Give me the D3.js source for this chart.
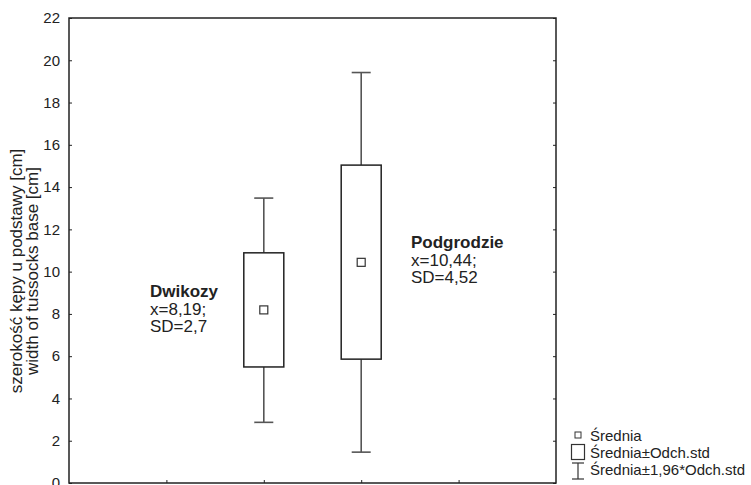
<!DOCTYPE html>
<html>
<head>
<meta charset="utf-8">
<script src="https://cdn.jsdelivr.net/npm/d3@7"></script>
<style>
  body { margin: 0; background: #fff; }
  svg { font-family: "Liberation Sans", Arial, sans-serif; }
</style>
</head>
<body>
<svg id="chart" width="751" height="485"></svg>
<script>
// ---- data ----
const categories = ["Dwikozy", "Podgrodzie"];
const categoryPos = [2, 3];
const means = [8.19, 10.44];
const boxLow = [5.49, 5.86];
const boxHigh = [10.89, 15.04];
const whiskerLow = [2.87, 1.46];
const whiskerHigh = [13.48, 19.42];
const annotationLines = [
  ["x=8,19;", "SD=2,7"],
  ["x=10,44;", "SD=4,52"]
];
const yTicks = [0, 2, 4, 6, 8, 10, 12, 14, 16, 18, 20, 22];
const xTicks = [1, 2, 3, 4];
const yLabelLines = ["szerokość kępy u podstawy [cm]", "width of tussocks base [cm]"];
const legendLabels = ["Średnia", "Średnia±Odch.std", "Średnia±1,96*Odch.std"];

// ---- layout ----
const svg = d3.select("#chart");
const L = 69, R = 556, T = 18, B = 483;
const x = d3.scaleLinear().domain([0, 5]).range([L, R]);
const y = d3.scaleLinear().domain([0, 22]).range([B, T]);

const boxColor = "#222";
const whiskColor = "#555";

// frame
svg.append("rect").attr("x", L).attr("y", T).attr("width", R - L).attr("height", B - T)
  .attr("fill", "none").attr("stroke", "#222").attr("stroke-width", 1.5);

// left axis
const yAxis = d3.axisLeft(y).tickValues(yTicks).tickSizeInner(-3).tickSizeOuter(0).tickPadding(9)
  .tickFormat(d3.format("d"));
const gy = svg.append("g").attr("transform", `translate(${L},0)`).call(yAxis);
gy.select(".domain").remove();
gy.selectAll("line").attr("stroke", "#222");
gy.selectAll("text").attr("font-size", 15).attr("fill", "#222");

// right ticks
const yAxisR = d3.axisRight(y).tickValues(yTicks).tickSizeInner(-3).tickSizeOuter(0).tickFormat("");
const gyr = svg.append("g").attr("transform", `translate(${R},0)`).call(yAxisR);
gyr.select(".domain").remove();
gyr.selectAll("line").attr("stroke", "#222");

// bottom ticks
const xAxis = d3.axisBottom(x).tickValues(xTicks).tickSizeInner(-3).tickSizeOuter(0).tickFormat("");
const gx = svg.append("g").attr("transform", `translate(0,${B})`).call(xAxis);
gx.select(".domain").remove();
gx.selectAll("line").attr("stroke", "#222");

// y label
const yl = svg.append("text").attr("transform", `translate(22,271) rotate(-90)`)
  .attr("text-anchor", "middle").attr("font-size", 17).attr("fill", "#222");
yl.append("tspan").attr("x", 0).attr("y", 0).text(yLabelLines[0]);
yl.append("tspan").attr("x", 0).attr("y", 16).text(yLabelLines[1]);

// boxes
const boxW = 40, capW = 19, markS = 8;
const g = svg.append("g");
categories.forEach((c, i) => {
  const cx = x(categoryPos[i]);
  g.append("line").attr("x1", cx).attr("x2", cx).attr("y1", y(whiskerHigh[i])).attr("y2", y(boxHigh[i]))
    .attr("stroke", whiskColor).attr("stroke-width", 1.6);
  g.append("line").attr("x1", cx).attr("x2", cx).attr("y1", y(boxLow[i])).attr("y2", y(whiskerLow[i]))
    .attr("stroke", whiskColor).attr("stroke-width", 1.6);
  g.append("line").attr("x1", cx - capW / 2).attr("x2", cx + capW / 2).attr("y1", y(whiskerHigh[i])).attr("y2", y(whiskerHigh[i]))
    .attr("stroke", whiskColor).attr("stroke-width", 1.6);
  g.append("line").attr("x1", cx - capW / 2).attr("x2", cx + capW / 2).attr("y1", y(whiskerLow[i])).attr("y2", y(whiskerLow[i]))
    .attr("stroke", whiskColor).attr("stroke-width", 1.6);
  g.append("rect").attr("x", cx - boxW / 2).attr("y", y(boxHigh[i])).attr("width", boxW)
    .attr("height", y(boxLow[i]) - y(boxHigh[i])).attr("fill", "#fff")
    .attr("stroke", boxColor).attr("stroke-width", 1.5);
  g.append("rect").attr("x", cx - markS / 2).attr("y", y(means[i]) - markS / 2).attr("width", markS).attr("height", markS)
    .attr("fill", "#fff").attr("stroke", "#333").attr("stroke-width", 1.2);
});

// annotations
const annPos = [[150, 297], [411, 248]];
categories.forEach((c, i) => {
  const t = svg.append("text").attr("x", annPos[i][0]).attr("y", annPos[i][1]).attr("font-size", 17).attr("fill", "#222");
  t.append("tspan").attr("x", annPos[i][0]).attr("font-weight", "bold").text(c);
  annotationLines[i].forEach((ln, j) => {
    t.append("tspan").attr("x", annPos[i][0]).attr("dy", 17.5).text(ln);
  });
});

// legend
const lg = svg.append("g");
const lx = 590;
lg.append("rect").attr("x", 575).attr("y", 432).attr("width", 6).attr("height", 6)
  .attr("fill", "#fff").attr("stroke", "#333").attr("stroke-width", 1);
lg.append("rect").attr("x", 571.5).attr("y", 444.5).attr("width", 13).attr("height", 15)
  .attr("fill", "#fff").attr("stroke", "#333").attr("stroke-width", 1.2);
lg.append("line").attr("x1", 578).attr("x2", 578).attr("y1", 463).attr("y2", 479).attr("stroke", "#333").attr("stroke-width", 1.2);
lg.append("line").attr("x1", 572).attr("x2", 584).attr("y1", 463).attr("y2", 463).attr("stroke", "#333").attr("stroke-width", 1.2);
lg.append("line").attr("x1", 572).attr("x2", 584).attr("y1", 479).attr("y2", 479).attr("stroke", "#333").attr("stroke-width", 1.2);
legendLabels.forEach((l, i) => {
  lg.append("text").attr("x", lx).attr("y", 441 + i * 17).attr("font-size", 15).attr("fill", "#222").text(l);
});
</script>
</body>
</html>
